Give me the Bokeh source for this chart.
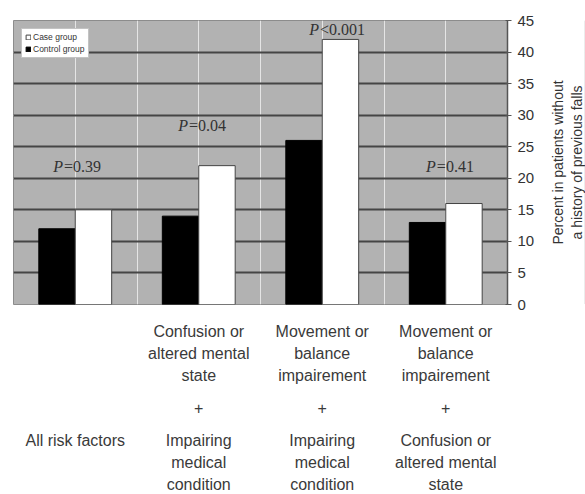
from bokeh.plotting import figure
from bokeh.layouts import row
from bokeh.models import (Range1d, LinearAxis, FixedTicker, Grid, Legend,
                          LegendItem, ColumnDataSource)
from bokeh.transform import dodge
from bokeh.core.properties import value
from bokeh.embed import file_html
from bokeh.resources import INLINE

# ---------------- data ----------------
categories = ["All risk factors",
              "Confusion + Impairing",
              "Movement + Impairing",
              "Movement + Confusion"]
top_labels = ["",
              "Confusion or\naltered mental\nstate",
              "Movement or\nbalance\nimpairement",
              "Movement or\nbalance\nimpairement"]
mid_labels = ["", "+", "+", "+"]
bottom_labels = ["All risk factors",
                 "Impairing\nmedical\ncondition",
                 "Impairing\nmedical\ncondition",
                 "Confusion or\naltered mental\nstate"]
control_group = [12, 14, 26, 13]
case_group = [15, 22, 42, 16]
p_values = ["=0.39", "=0.04", "<0.001", "=0.41"]
y_ticks = [0, 5, 10, 15, 20, 25, 30, 35, 40, 45]
y_title = "Percent in patients without\na history of previous falls"

# ---------------- layout helpers ----------------
xs = [i + 1 for i in range(len(categories))]
p_dx = [-0.10, -0.087, -0.027, -0.08]
p_y = [21.9, 28.4, 43.6, 21.9]

src = ColumnDataSource(dict(x=xs, control=control_group, case=case_group))
psrc = ColumnDataSource(dict(x=[x + d for x, d in zip(xs, p_dx)], y=p_y,
                             P=["P"] * len(xs), rest=p_values))

p = figure(frame_width=494, frame_height=284,
           x_range=Range1d(0.5, 4.5), y_range=Range1d(0, 45),
           x_axis_location=None, y_axis_location=None,
           toolbar_location=None, output_backend="svg",
           min_border_left=13, min_border_top=20,
           min_border_right=30, min_border_bottom=0,
           background_fill_color="#b2b2b2",
           outline_line_color="#8c8c8c", outline_line_width=1)

# right axis (ticks and numbers)
yaxis = LinearAxis(ticker=FixedTicker(ticks=y_ticks))
yaxis.axis_line_color = "#555555"
yaxis.axis_line_width = 1.5
yaxis.major_tick_line_color = "#555555"
yaxis.major_tick_in = 2
yaxis.major_tick_out = 4
yaxis.minor_tick_line_color = None
yaxis.major_label_text_font = "Liberation Sans"
yaxis.major_label_text_font_size = "15px"
yaxis.major_label_text_color = "#333333"
yaxis.major_label_standoff = 6
p.add_layout(yaxis, "right")

p.add_layout(Grid(dimension=1, ticker=yaxis.ticker,
                  grid_line_color="#454545", grid_line_width=2))

# bottom "axes" with the multi-part category labels
def cat_axis(labels, standoff):
    ax = LinearAxis(ticker=FixedTicker(ticks=xs),
                    major_label_overrides={x: l for x, l in zip(xs, labels)})
    ax.axis_line_color = None
    ax.major_tick_line_color = None
    ax.minor_tick_line_color = None
    ax.major_tick_in = 0
    ax.major_tick_out = 0
    ax.major_label_standoff = standoff
    ax.major_label_text_font = "Liberation Sans"
    ax.major_label_text_font_size = "16px"
    ax.major_label_text_color = "#3a3a3a"
    ax.major_label_text_line_height = 1.3
    return ax

p.add_layout(cat_axis(top_labels, 18), "below")
p.add_layout(cat_axis(mid_labels, 15), "below")
p.add_layout(cat_axis(bottom_labels, 15), "below")

# bars
r_ctrl = p.vbar(x=dodge("x", -0.1475, range=p.x_range), top="control",
                width=0.295, source=src, fill_color="black",
                line_color="black", line_width=1)
r_case = p.vbar(x=dodge("x", 0.1475, range=p.x_range), top="case",
                width=0.295, source=src, fill_color="white",
                line_color="#444444", line_width=1)

# P-value annotations
p.text(x="x", y="y", text="P", source=psrc, text_align="right",
       text_baseline="middle", text_font=value("Liberation Serif"),
       text_font_style="italic", text_font_size="16px", text_color="#333333")
p.text(x="x", y="y", text="rest", source=psrc, text_align="left",
       text_baseline="middle", text_font=value("Liberation Serif"),
       text_font_size="16px", text_color="#333333", x_offset=1)

legend = Legend(items=[LegendItem(label="Case group", renderers=[r_case]),
                       LegendItem(label="Control group", renderers=[r_ctrl])],
                location="top_left")
legend.margin = 8
legend.padding = 3
legend.spacing = 2
legend.label_standoff = 2
legend.glyph_width = 6
legend.glyph_height = 6
legend.label_height = 9
legend.label_text_font = "Liberation Sans"
legend.label_text_font_size = "8.5px"
legend.label_text_color = "#333333"
legend.border_line_color = "#888888"
legend.background_fill_color = "white"
legend.background_fill_alpha = 1
p.add_layout(legend)

# narrow side figure whose left axis carries the y title (bottom-to-top)
t = figure(frame_width=1, frame_height=284,
           x_range=Range1d(0, 1), y_range=Range1d(0, 45),
           x_axis_location=None, y_axis_location=None,
           toolbar_location=None, output_backend="svg",
           min_border_left=47, min_border_top=20,
           min_border_right=0, min_border_bottom=0,
           outline_line_color=None, background_fill_color=None,
           border_fill_color=None)
title_axis = LinearAxis(ticker=FixedTicker(ticks=[]), axis_label=y_title)
title_axis.axis_line_color = None
title_axis.major_tick_line_color = None
title_axis.minor_tick_line_color = None
title_axis.major_tick_in = 0
title_axis.major_tick_out = 0
title_axis.major_label_standoff = 0
title_axis.axis_label_standoff = 0
title_axis.axis_label_text_font = "Liberation Sans"
title_axis.axis_label_text_font_size = "14px"
title_axis.axis_label_text_font_style = "normal"
title_axis.axis_label_text_color = "#333333"
title_axis.axis_label_text_line_height = 1.15
t.add_layout(title_axis, "left")

layout = row(p, t, spacing=0)
open("out.html", "w").write(file_html(layout, INLINE))
